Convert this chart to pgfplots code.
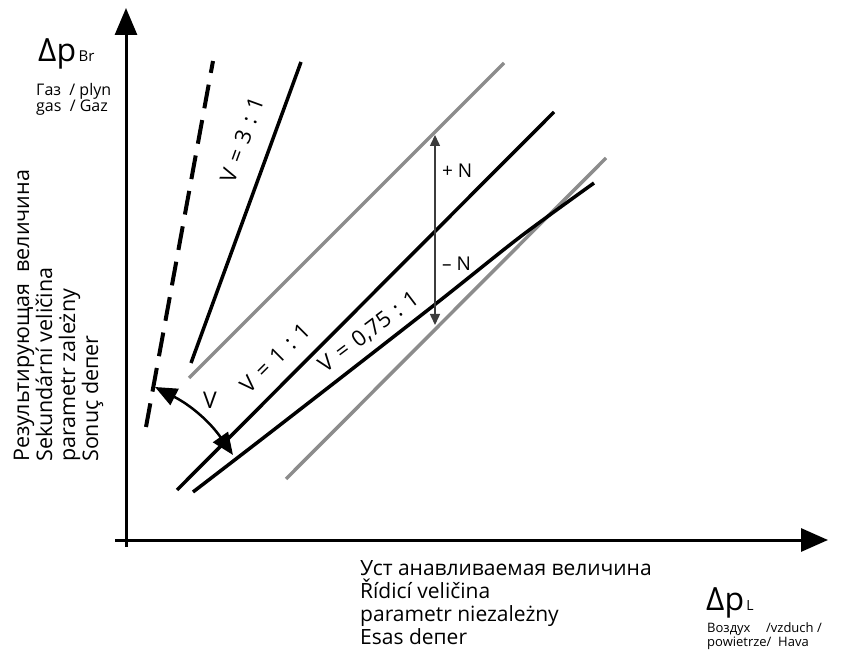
\documentclass[border=0pt]{standalone}
\usepackage{fontspec}
\setmainfont{Open Sans}
\usepackage{pgfplots}
\pgfplotsset{compat=1.18}
\usetikzlibrary{arrows.meta}
\definecolor{lgray}{RGB}{140,140,140}
\definecolor{dgray}{RGB}{60,60,60}
\newcommand{\gap}{\hspace{0.36em}}

\begin{document}
\begin{tikzpicture}
\begin{axis}[
  scale only axis, width=847pt, height=652pt,
  xmin=0, xmax=847, ymin=0, ymax=652, y dir=reverse,
  enlargelimits=false, axis line style={draw=none}, ticks=none, clip=false,
]
\addplot[draw=none] coordinates {(0,0) (847,652)};
% axes
\addplot[black, line width=3pt, -{Triangle[length=27pt,width=22pt]}] coordinates {(126,547) (126,8)};
\addplot[black, line width=3pt, -{Triangle[length=27pt,width=23pt]}] coordinates {(115,540) (828,540)};
% dashed limit line
\addplot[black, line width=4pt, dash pattern=on 24pt off 12pt] coordinates {(146,427) (213,61)};
% V = 3:1
\addplot[black, line width=3.5pt] coordinates {(191,363) (301,62)};
% tolerance band (gray)
\addplot[lgray, line width=3.5pt] coordinates {(189,378) (504,63)};
\addplot[lgray, line width=3.5pt] coordinates {(286,479) (606,158)};
% V = 1:1
\addplot[black, line width=3.5pt] coordinates {(177,490) (554,112)};
% V = 0,75:1
\addplot[black, line width=3.5pt, smooth] coordinates {(193,492) (280,425) (433,306) (520,237) (594,183)};
% +/- N arrow
\addplot[dgray, line width=1.5pt, {Triangle[length=11pt,width=10pt]}-{Triangle[length=11pt,width=10pt]}] coordinates {(435,135) (435,325)};
\node[anchor=base west, inner sep=0, font=\fontsize{19}{22}\selectfont] at (axis cs:442,178) {+ N};
\node[anchor=base west, inner sep=0, font=\fontsize{19}{22}\selectfont] at (axis cs:442,271) {– N};
% V angle arrow
\draw[black, line width=2.5pt, {Triangle[length=22pt,width=18pt]}-{Triangle[length=22pt,width=18pt]}]
  (axis cs:155,387) to[bend left=14] (axis cs:233,455);
\node[inner sep=0, font=\fontsize{23}{26}\selectfont] at (axis cs:210,400) {V};
% line labels
\node[inner sep=0, rotate=70, font=\fontsize{22}{26}\selectfont] at (axis cs:242,140) {V\gap=\gap3\gap:\gap1};
\node[inner sep=0, rotate=45, font=\fontsize{22}{26}\selectfont] at (axis cs:275,358) {V\gap=\gap1\gap:\gap1};
\node[inner sep=0, rotate=37, font=\fontsize{22}{26}\selectfont] at (axis cs:369,332) {V\gap=\gap0,75\gap:\gap1};
% y axis title
\node[anchor=base west, inner sep=0] at (axis cs:38,62) {\fontsize{32}{34}\selectfont Δp\fontsize{15}{17}\selectfont\,Br};
\node[anchor=base west, inner sep=0, font=\fontsize{16}{18}\selectfont] at (axis cs:36,96) {Газ\ \ / plyn};
\node[anchor=base west, inner sep=0, font=\fontsize{16}{18}\selectfont] at (axis cs:36,112) {gas\ \ / Gaz};
\node[anchor=base west, inner sep=0, rotate=90, font=\fontsize{21.5}{23}\selectfont] at (axis cs:29,462) {Результирующая\ \ величина};
\node[anchor=base west, inner sep=0, rotate=90, font=\fontsize{21.5}{23}\selectfont] at (axis cs:52,462) {Sekundární veličina};
\node[anchor=base west, inner sep=0, rotate=90, font=\fontsize{21.5}{23}\selectfont] at (axis cs:75,462) {parametr zależny};
\node[anchor=base west, inner sep=0, rotate=90, font=\fontsize{21.5}{23}\selectfont] at (axis cs:98,462) {Sonuç deпer};
% x axis title
\node[anchor=base west, inner sep=0, font=\fontsize{21}{23}\selectfont] at (axis cs:360,575) {Уст анавливаемая величина};
\node[anchor=base west, inner sep=0, font=\fontsize{21}{23}\selectfont] at (axis cs:360,598) {Řídicí veličina};
\node[anchor=base west, inner sep=0, font=\fontsize{21}{23}\selectfont] at (axis cs:360,621) {parametr niezależny};
\node[anchor=base west, inner sep=0, font=\fontsize{21}{23}\selectfont] at (axis cs:360,644) {Esas deпer};
\node[anchor=base west, inner sep=0] at (axis cs:706,610) {\fontsize{32}{34}\selectfont Δp\fontsize{14}{16}\selectfont\,L};
\node[overlay, anchor=base west, inner sep=0, font=\fontsize{13}{15}\selectfont] at (axis cs:707,632) {Воздух\hspace{1.2em}/vzduch /};
\node[overlay, anchor=base west, inner sep=0, font=\fontsize{13}{15}\selectfont] at (axis cs:707,646) {powietrze/\ \ Hava};
\end{axis}
\end{tikzpicture}
\end{document}
